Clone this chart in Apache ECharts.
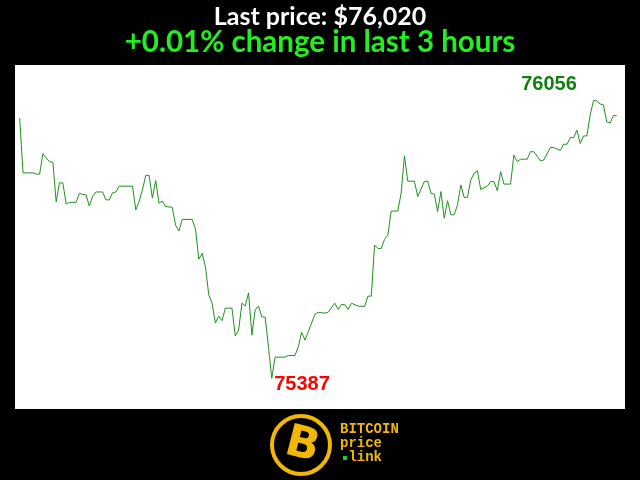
<!DOCTYPE html>
<html>
<head>
<meta charset="utf-8">
<script src="https://cdn.jsdelivr.net/npm/echarts@6/dist/echarts.min.js"></script>
<style>
html,body{margin:0;padding:0;background:#000;}
#chart{width:640px;height:480px;}
</style>
</head>
<body>
<div id="chart"></div>
<script>
// minutes from start of the 3-hour window (vertices)
const minutes = [0,1,4,5,6,7,8,9,10,11,12,13,14,15,17,18,19,20,21,22,23,25,26,27,28,29,30,34,35,36,37,38,39,40,41,42,43,44,46,47,48,49,52,53,54,55,56,57,58,59,60,61,62,64,65,66,67,68,69,70,71,72,73,74,75,76,77,80,81,83,84,85,86,87,89,90,92,93,95,96,97,98,99,100,102,104,105,106,107,108,109,110,111,112,114,115,116,117,119,120,122,123,124,125,126,127,128,129,130,131,132,133,134,135,136,137,138,139,141,142,143,144,145,146,148,149,150,151,153,154,155,157,158,160,161,163,164,165,166,167,168,169,170,171,172,173,174,175,176,177,178,179,180];
// BTC price in USD
const prices = [76014,75882,75882,75879,75879,75928,75918,75909,75908,75812,75858,75858,75807,75811,75811,75833,75830,75829,75802,75826,75836,75836,75817,75817,75834,75836,75850,75850,75793,75813,75841,75876,75876,75821,75864,75809,75814,75801,75799,75756,75742,75770,75770,75746,75674,75688,75656,75588,75568,75520,75537,75526,75556,75556,75489,75503,75568,75561,75593,75491,75552,75561,75535,75534,75463,75387,75438,75438,75442,75442,75463,75498,75479,75499,75541,75546,75544,75546,75568,75553,75565,75565,75553,75568,75561,75560,75585,75585,75708,75700,75700,75722,75732,75790,75790,75833,75923,75862,75862,75825,75861,75862,75833,75831,75789,75837,75773,75815,75781,75781,75805,75853,75823,75823,75865,75881,75887,75842,75850,75861,75861,75839,75885,75855,75855,75925,75909,75915,75915,75933,75933,75911,75913,75943,75943,75936,75951,75951,75967,75967,75985,75953,75971,75971,76022,76056,76056,76048,76046,76005,76002,76020,76020];

const titleLine1 = 'Last price: $76,020';
const titleLine2 = '+0.01% change in last 3 hours';

const maxPrice = Math.max(...prices);
const minPrice = Math.min(...prices);

const chart = echarts.init(document.getElementById('chart'), null, {renderer: 'canvas'});
const option = {
  backgroundColor: '#000',
  animation: false,
  grid: {left: 15, right: 15, top: 65, bottom: 71, show: true, backgroundColor: '#fff', borderWidth: 0},
  xAxis: {type: 'value', min: -1.42, max: 182.5, show: false},
  yAxis: {type: 'value', min: 75313, max: 76142, show: false},
  series: [{
    type: 'line',
    data: minutes.map((m, i) => [m, prices[i]]),
    showSymbol: false,
    lineStyle: {color: '#1f911f', width: 1},
    silent: true
  }],
  graphic: [
    {type: 'text', left: 'center', top: 4, style: {text: titleLine1, fill: '#fff', font: 'bold 25px Lato, "Open Sans", sans-serif'}},
    {type: 'text', left: 'center', top: 27, style: {text: titleLine2, fill: '#22ee22', font: 'bold 29.5px Lato, "Open Sans", sans-serif'}},
    {type: 'text', x: 549, y: 84, style: {text: String(maxPrice), fill: '#108010', font: 'bold 20px "Liberation Sans", Arial, sans-serif', textAlign: 'center', textVerticalAlign: 'middle'}},
    {type: 'text', x: 302, y: 384, style: {text: String(minPrice), fill: '#ff0000', font: 'bold 20px "Liberation Sans", Arial, sans-serif', textAlign: 'center', textVerticalAlign: 'middle'}},
    // logo
    {type: 'circle', shape: {cx: 301, cy: 445, r: 29}, style: {fill: 'none', stroke: '#f2b705', lineWidth: 4}},
    {type: 'text', x: 302, y: 446, rotation: -0.25, style: {text: 'B', fill: '#f2b705', font: 'bold 44px "DejaVu Sans", sans-serif', textAlign: 'center', textVerticalAlign: 'middle'}},
    {type: 'text', x: 340, y: 429, style: {text: 'BITCOIN', fill: '#f2b705', font: 'bold 14px "Liberation Mono", monospace', textVerticalAlign: 'middle'}},
    {type: 'text', x: 340, y: 443, style: {text: 'price', fill: '#f2b705', font: 'bold 14px "Liberation Mono", monospace', textVerticalAlign: 'middle'}},
    {type: 'text', x: 340, y: 457, style: {text: '\u00a0link', fill: '#f2b705', font: 'bold 14px "Liberation Mono", monospace', textVerticalAlign: 'middle'}},
    {type: 'rect', shape: {x: 343, y: 456, width: 4, height: 4}, style: {fill: '#22cc22'}}
  ]
};
chart.setOption(option);
</script>
</body>
</html>
